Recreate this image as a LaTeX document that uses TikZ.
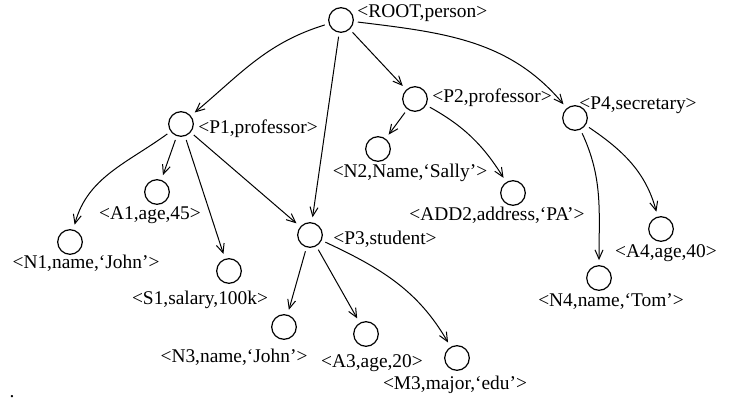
\documentclass[tikz,border=0pt]{standalone}
\usepackage{fontspec}
\setmainfont{Liberation Serif}
\usetikzlibrary{arrows.meta}

\begin{document}
\begin{tikzpicture}[x=0.5pt,y=0.5pt,
    vertex/.style={circle,draw,line width=0.6pt,minimum size=12.3pt,inner sep=0pt},
    tag/.style={font=\fontsize{9.7pt}{11pt}\selectfont,inner sep=0pt},
    edge/.style={-{Straight Barb[length=4.5pt,width=4pt]},line width=0.5pt,
      shorten <=2pt,shorten >=2.5pt}]
    \useasboundingbox (0,0) rectangle (737,-400);
    % the circles
    \foreach \n/\x/\y in {root/341/20, p1/181/124, p2/415/99, p3/310/235, p4/575/118,
      n1/70/242, a1/157/192, s1/229/271, n2/378/149, add2/513/193,
      n3/284/327, a3/366/334, m3/457/358, n4/599/278, a4/661/229}
    {
      \node[vertex] (\n) at (\x,-\y) {};
    }
    % their labels
    \foreach \n/\a/\x/\y/\t in {
      root/west/357/13/{<ROOT,person>},
      p1/west/198/129/{<P1,professor>},
      p2/west/432/98/{<P2,professor>},
      p4/west/579/105/{<P4,secretary>},
      p3/west/333/239/{<P3,student>},
      n1/center/86/263/{<N1,name,`John'>},
      a1/center/150/215/{<A1,age,45>},
      s1/center/200/300/{<S1,salary,100k>},
      n2/center/410/173/{<N2,Name,`Sally'>},
      add2/center/497/215/{<ADD2,address,`PA'>},
      a4/center/666/253/{<A4,age,40>},
      n4/center/611/302/{<N4,name,`Tom'>},
      n3/center/234/357/{<N3,name,`John'>},
      a3/center/372/363/{<A3,age,20>},
      m3/center/455/385/{<M3,major,`edu'>}}
    {
      \node[tag,anchor=\a] (\n-l) at (\x,-\y) {\t};
    }
    \node[tag] (dot) at (12,-397) {.};
    % edges
    \draw[edge] (root) to[out=197,in=40] (p1);
    \draw[edge] (root) -- (p3);
    \draw[edge] (root) -- (p2);
    \draw[edge] (root) to[out=-7,in=130] (p4);
    \draw[edge] (p1) to[out=216,in=75] (n1);
    \draw[edge] (p1) -- (a1);
    \draw[edge] (p1) -- (s1);
    \draw[edge] (p1) -- (p3);
    \draw[edge] (p2) -- (n2);
    \draw[edge] (p2) to[out=-29,in=122] (add2);
    \draw[edge] (p3) -- (n3);
    \draw[edge] (p3) -- (a3);
    \draw[edge] (p3) to[out=-25,in=120] (m3);
    \draw[edge] (p4) to[out=-65,in=90] (n4);
    \draw[edge] (p4) to[out=-34,in=105] (a4);
\end{tikzpicture}
\end{document}
